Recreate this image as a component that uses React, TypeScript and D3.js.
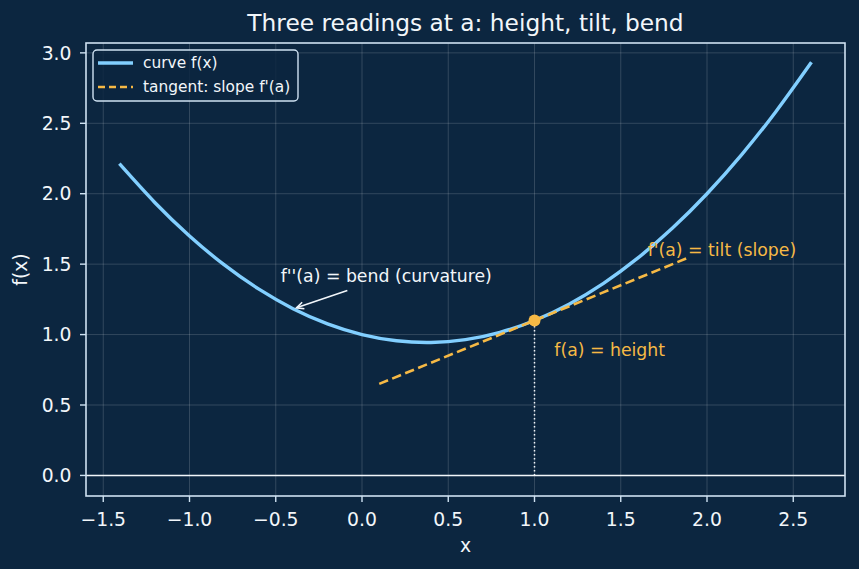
import { useMemo } from "react";
import * as d3 from "d3";

const WIDTH = 859;
const HEIGHT = 569;
const MARGIN = { top: 43, right: 14, bottom: 73, left: 86 };

const BG = "#0c2640";
const CURVE = "#82cfff";
const ORANGE = "#f6b945";
const INK = "#f2f6fa";
const SPINE = "#cfe2f2";

// curve f(x)
const curveX = [
  -1.4, -1.2, -1.0, -0.8, -0.6, -0.4, -0.2, 0.0, 0.2, 0.4, 0.6, 0.8, 1.0, 1.2,
  1.4, 1.6, 1.8, 2.0, 2.2, 2.4, 2.6,
];
const curveY = [
  2.204, 1.936, 1.7, 1.496, 1.324, 1.184, 1.076, 1.0, 0.956, 0.944, 0.964,
  1.016, 1.1, 1.216, 1.364, 1.544, 1.756, 2.0, 2.276, 2.584, 2.924,
];

// tangent line at a
const tangentX = [0.1, 1.9];
const tangentY = [0.65, 1.55];

const pointA = { x: 1.0, y: 1.1 };

const xTicks = [-1.5, -1.0, -0.5, 0.0, 0.5, 1.0, 1.5, 2.0, 2.5];
const yTicks = [0.0, 0.5, 1.0, 1.5, 2.0, 2.5, 3.0];

const legendItems = [
  { label: "curve f(x)", color: CURVE, dash: "none" },
  { label: "tangent: slope f'(a)", color: ORANGE, dash: "7,4" },
];

const FONT = "DejaVu Sans, sans-serif";
const TICK_SIZE = 18.8;
const NOTE_SIZE = 17.3;

const fmt = (v: number) => d3.format(".1f")(v).replace("-", "\u2212");

export default function App() {
  const boundsWidth = WIDTH - MARGIN.left - MARGIN.right;
  const boundsHeight = HEIGHT - MARGIN.top - MARGIN.bottom;

  const xScale = useMemo(
    () => d3.scaleLinear().domain([-1.6, 2.8]).range([0, boundsWidth]),
    [boundsWidth]
  );
  const yScale = useMemo(
    () => d3.scaleLinear().domain([-0.146, 3.07]).range([boundsHeight, 0]),
    [boundsHeight]
  );

  const curvePath = d3
    .line<number>()
    .x((_, i) => xScale(curveX[i]))
    .y((d) => yScale(d))
    .curve(d3.curveNatural)(curveY) as string;

  const tangentPath = d3
    .line<number>()
    .x((_, i) => xScale(tangentX[i]))
    .y((d) => yScale(d))(tangentY) as string;

  // arrow of the bend annotation
  const tip = { x: xScale(-0.38), y: yScale(1.19) };
  const tail = { x: xScale(-0.085), y: yScale(1.313) };
  const ang = Math.atan2(tip.y - tail.y, tip.x - tail.x);
  const head = 8;
  const spread = 0.45;
  const headPath = `M${tip.x - head * Math.cos(ang - spread)},${
    tip.y - head * Math.sin(ang - spread)
  }L${tip.x},${tip.y}L${tip.x - head * Math.cos(ang + spread)},${
    tip.y - head * Math.sin(ang + spread)
  }`;

  return (
    <svg
      width={WIDTH}
      height={HEIGHT}
      style={{ position: "absolute", left: 0, top: 0, background: BG }}
      fontFamily={FONT}
    >
      <rect width={WIDTH} height={HEIGHT} fill={BG} />
      <text
        x={MARGIN.left + boundsWidth / 2}
        y={31}
        fill={INK}
        fontSize={23.3}
        textAnchor="middle"
      >
        Three readings at a: height, tilt, bend
      </text>
      <g transform={`translate(${MARGIN.left},${MARGIN.top})`}>
        {/* grid */}
        {xTicks.map((t) => (
          <line
            key={"gx" + t}
            x1={xScale(t)}
            x2={xScale(t)}
            y1={0}
            y2={boundsHeight}
            stroke="#ffffff"
            strokeOpacity={0.2}
            strokeWidth={0.8}
          />
        ))}
        {yTicks.map((t) => (
          <line
            key={"gy" + t}
            x1={0}
            x2={boundsWidth}
            y1={yScale(t)}
            y2={yScale(t)}
            stroke="#ffffff"
            strokeOpacity={0.2}
            strokeWidth={0.8}
          />
        ))}

        {/* baseline y = 0 */}
        <line
          x1={0}
          x2={boundsWidth}
          y1={yScale(0)}
          y2={yScale(0)}
          stroke={INK}
          strokeWidth={1.4}
        />
        {/* drop line from a */}
        <line
          x1={xScale(pointA.x)}
          x2={xScale(pointA.x)}
          y1={yScale(0)}
          y2={yScale(pointA.y)}
          stroke={INK}
          strokeWidth={1.5}
          strokeDasharray="1.5,2.5"
        />

        <path
          d={curvePath}
          fill="none"
          stroke={CURVE}
          strokeWidth={3.4}
          strokeLinecap="square"
        />
        <path
          d={tangentPath}
          fill="none"
          stroke={ORANGE}
          strokeWidth={2.6}
          strokeDasharray="9.5,4.5"
        />
        <circle
          cx={xScale(pointA.x)}
          cy={yScale(pointA.y)}
          r={6}
          fill={ORANGE}
        />

        {/* annotations */}
        <text
          x={xScale(1.115)}
          y={yScale(0.85)}
          fill={ORANGE}
          fontSize={NOTE_SIZE}
        >
          f(a) = height
        </text>
        <text
          x={xScale(1.656)}
          y={yScale(1.561)}
          fill={ORANGE}
          fontSize={NOTE_SIZE}
        >
          f'(a) = tilt (slope)
        </text>
        <text
          x={xScale(-0.471)}
          y={yScale(1.372)}
          fill={INK}
          fontSize={NOTE_SIZE}
        >
          f''(a) = bend (curvature)
        </text>
        <line
          x1={tail.x}
          y1={tail.y}
          x2={tip.x}
          y2={tip.y}
          stroke={INK}
          strokeWidth={1.6}
        />
        <path d={headPath} fill="none" stroke={INK} strokeWidth={1.6} />

        {/* spines */}
        <rect
          x={0}
          y={0}
          width={boundsWidth}
          height={boundsHeight}
          fill="none"
          stroke={SPINE}
          strokeWidth={1.6}
        />

        {/* x axis */}
        {xTicks.map((t) => (
          <g key={"xt" + t} transform={`translate(${xScale(t)},${boundsHeight})`}>
            <line y1={0} y2={6} stroke={SPINE} strokeWidth={1.4} />
            <text y={30.3} fill={INK} fontSize={TICK_SIZE} textAnchor="middle">
              {fmt(t)}
            </text>
          </g>
        ))}
        {/* y axis */}
        {yTicks.map((t) => (
          <g key={"yt" + t} transform={`translate(0,${yScale(t)})`}>
            <line x1={-6} x2={0} stroke={SPINE} strokeWidth={1.4} />
            <text
              x={-14.5}
              dy="0.36em"
              fill={INK}
              fontSize={TICK_SIZE}
              textAnchor="end"
            >
              {fmt(t)}
            </text>
          </g>
        ))}
        <text
          x={boundsWidth / 2}
          y={boundsHeight + 56.3}
          fill={INK}
          fontSize={TICK_SIZE}
          textAnchor="middle"
        >
          x
        </text>
        <text
          transform={`translate(${-58.6},${boundsHeight / 2}) rotate(-90)`}
          fill={INK}
          fontSize={TICK_SIZE}
          textAnchor="middle"
        >
          f(x)
        </text>

        {/* legend */}
        <g transform="translate(7,7)">
          <rect
            width={205}
            height={51}
            rx={4}
            fill={BG}
            fillOpacity={0.85}
            stroke={SPINE}
            strokeWidth={1.4}
          />
          {legendItems.map((d, i) => (
            <g key={d.label} transform={`translate(0,${13 + i * 24})`}>
              <line
                x1={5}
                x2={40}
                stroke={d.color}
                strokeWidth={d.dash === "none" ? 3.4 : 2.6}
                strokeDasharray={d.dash}
              />
              <text x={50} dy="0.35em" fill={INK} fontSize={15.4}>
                {d.label}
              </text>
            </g>
          ))}
        </g>
      </g>
    </svg>
  );
}
